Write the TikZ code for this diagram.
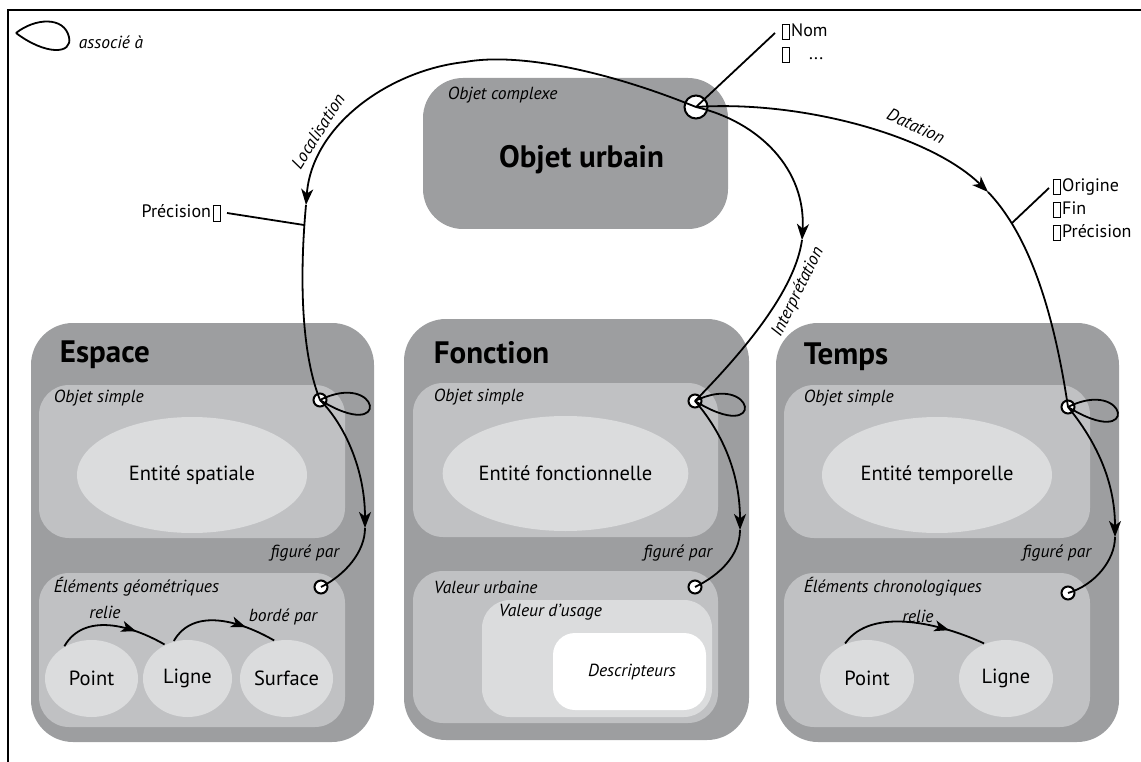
\documentclass[tikz,border=0pt]{standalone}
\usepackage{fontspec}
\setmainfont{PT Sans}
\usetikzlibrary{arrows.meta,shapes.geometric,decorations.markings,calc}
\definecolor{gOuter}{HTML}{9D9EA0}
\definecolor{gMid}{HTML}{C0C1C3}
\definecolor{gLight}{HTML}{DBDCDD}
\newcommand{\bx}{\raisebox{-0.16em}{\setlength{\fboxsep}{0pt}\setlength{\fboxrule}{0.7pt}\fbox{\rule{0pt}{0.8em}\hspace{0.36em}}}\kern0.08em}
\begin{document}
\begin{tikzpicture}[x=1pt,y=-1pt,line width=1.8pt,
  outerbox/.style={rectangle, rounded corners=42pt, fill=gOuter, draw=none, inner sep=0pt},
  innerbox/.style={rectangle, rounded corners=30pt, fill=gMid, draw=none, inner sep=0pt},
  ell/.style={ellipse, fill=gLight, draw=none, inner sep=0pt, font=\fontsize{20.5}{22}\selectfont},
  port/.style={circle, draw, fill=white, line width=2pt, minimum size=13pt, inner sep=0pt},
  lab/.style={font=\itshape\fontsize{17.5}{19}\selectfont, anchor=west, inner sep=0pt},
  plain/.style={font=\fontsize{18}{23}\selectfont, inner sep=0pt},
  ttl/.style={font=\bfseries\fontsize{31}{34}\selectfont, anchor=west, inner sep=0pt},
  tip/.style={-{Stealth[length=16pt,width=12pt,inset=4.5pt]}},
  midarrow/.style={postaction={decorate}, decoration={markings, mark=at position #1 with {\arrow{Stealth[length=15pt,width=11pt,inset=4pt]}}}},
]
\useasboundingbox (0,0) rectangle (1141,762);
% frame
\coordinate (fbl) at (8,762);
\coordinate (ftl) at (8,10);
\coordinate (ftr) at (1141,10);
\draw[line width=2.5pt] (fbl) -- (ftl) -- (ftr);

% legend
\coordinate (leg) at (16,33);
\coordinate (legr) at (69,37);
\draw (leg) .. controls (35,18) and (64,16) .. (legr) .. controls (73,55) and (45,55) .. (leg);
\node[lab] (legtxt) at (78,42) {associé à};

% top box
\node[outerbox, rounded corners=40pt, minimum width=305pt, minimum height=151pt] (ou) at (575.5,153.5) {};
\node[lab] (oclab) at (447,95) {Objet complexe};
\node[ttl, anchor=center] (outitle) at (581.5,160) {Objet urbain};

% Espace
\node[outerbox, minimum width=343pt, minimum height=419pt] (esp) at (202.5,532.5) {};
\node[ttl] (esptitle) at (59,355) {Espace};
\node[innerbox, minimum width=306pt, minimum height=153pt] (espos) at (192,461.5) {};
\node[lab] (esposlab) at (53,398) {Objet simple};
\node[ell, minimum width=230pt, minimum height=116pt] (espent) at (192,475) {Entité spatiale};
\node[lab, anchor=east] (espfig) at (340,553) {figuré par};
\node[innerbox, minimum width=306pt, minimum height=154pt] (espel) at (192,650) {};
\node[lab] (espellab) at (53,587) {Éléments géométriques};
\node[ell, minimum width=93pt, minimum height=77pt] (esppt) at (91.5,678.5) {Point};
\node[ell, minimum width=89pt, minimum height=77pt] (esplg) at (187.5,678.5) {Ligne};
\node[ell, minimum width=93pt, minimum height=77pt] (espsf) at (286.5,678.5) {Surface};
\node[lab, anchor=center] (esprel) at (105,612) {relie};
\node[lab, anchor=center] (espbor) at (283,617) {bordé par};
\node[port] (e1) at (320,400) {};
\node[port] (e2) at (321,587) {};

% Fonction
\node[outerbox, minimum width=345pt, minimum height=421pt] (fon) at (576.5,529.5) {};
\node[ttl] (fontitle) at (433,353) {Fonction};
\node[innerbox, minimum width=305pt, minimum height=154pt] (fonos) at (565.5,460) {};
\node[lab] (fonoslab) at (433,397) {Objet simple};
\node[ell, minimum width=229pt, minimum height=115pt] (fonent) at (565.5,473.5) {Entité fonctionnelle};
\node[lab, anchor=east] (fonfig) at (713,553) {figuré par};
\node[innerbox, minimum width=305pt, minimum height=152pt] (fonvu) at (565.5,647) {};
\node[lab] (fonvulab) at (433,587) {Valeur urbaine};
\node[innerbox, fill=gLight, rounded corners=28pt, minimum width=230pt, minimum height=117pt] (fonvus) at (597,658.5) {};
\node[lab] (fonvuslab) at (498,612) {Valeur d'usage};
\node[innerbox, fill=white, rounded corners=22pt, minimum width=153pt, minimum height=77pt] (fondesc) at (629.5,671.5) {};
\node[lab, anchor=center] (fondesclab) at (632,672) {Descripteurs};
\node[port] (f1) at (695,401) {};
\node[port] (f2) at (695,587) {};

% Temps
\node[outerbox, minimum width=343pt, minimum height=419pt] (tps) at (947.5,532.5) {};
\node[ttl] (tpstitle) at (803,357) {Temps};
\node[innerbox, minimum width=306pt, minimum height=153pt] (tpsos) at (937,461.5) {};
\node[lab] (tpsoslab) at (803,398) {Objet simple};
\node[ell, minimum width=230pt, minimum height=116pt] (tpsent) at (937,475) {Entité temporelle};
\node[lab, anchor=east] (tpsfig) at (1092,553) {figuré par};
\node[innerbox, minimum width=306pt, minimum height=154pt] (tpsel) at (937,650) {};
\node[lab] (tpsellab) at (803,587) {Éléments chronologiques};
\node[ell, minimum width=94pt, minimum height=77pt] (tpspt) at (867,678.5) {Point};
\node[ell, minimum width=94pt, minimum height=77pt] (tpslg) at (1006,678.5) {Ligne};
\node[lab, anchor=center] (tpsrel) at (918,616) {relie};
\node[port] (t1) at (1068,407) {};
\node[port] (t2) at (1068,593) {};

% top port
\node[port, minimum size=23pt] (cx) at (696,107) {};

% attribute texts
\node[plain, anchor=west, align=left] (nom) at (781,43) {\bx Nom\\\bx\quad ...};
\coordinate (nomend) at (775,33);
\node[plain, anchor=east] (prec) at (223,213) {Précision\kern0.1em\bx};
\coordinate (lp) at (304,225);
\node[plain, anchor=west, align=left] (dlist) at (1052,210) {\bx Origine\\\bx Fin\\\bx Précision};
\coordinate (dt) at (1012,223);
\coordinate (dtend) at (1049,188);

% connector labels
\node[lab, anchor=center, rotate=58] (loclab) at (318,131) {Localisation};
\node[lab, anchor=center, rotate=-25] (datlab) at (916,126) {Datation};
\node[lab, anchor=center, rotate=64] (intlab) at (798,292) {Interprétation};

% Localisation
\coordinate (la) at (306,205);
\coordinate (ltop) at (465,62);
\draw[tip] (cx.center) .. controls (610,72) and (520,52) .. (ltop) .. controls (390,70) and (312,125) .. (la);
\draw (la) .. controls (300,270) and (300,350) .. (e1.center);
\draw ([xshift=4pt]prec.east) -- (lp);

% Datation
\coordinate (da) at (988,192);
\draw[tip] (cx.center) .. controls (800,100) and (930,135) .. (da);
\draw (da) .. controls (1032,238) and (1055,320) .. (t1.center);
\draw (dt) -- (dtend);

% Interpretation
\coordinate (ia) at (802,240);
\draw[tip] (cx.center) .. controls (760,122) and (806,170) .. (ia);
\draw (ia) .. controls (795,290) and (745,350) .. (f1.center);

% Nom
\draw (cx.center) -- (nomend);

% loops
\draw (e1.center) .. controls ($(e1)+(60,-30)$) and ($(e1)+(73,45)$) .. (e1.center);
\draw (f1.center) .. controls ($(f1)+(60,-30)$) and ($(f1)+(73,45)$) .. (f1.center);
\draw (t1.center) .. controls ($(t1)+(60,-30)$) and ($(t1)+(73,45)$) .. (t1.center);

% figure par
\coordinate (ea) at (365,528);
\draw[tip] (e1.center) .. controls (345,425) and (365,470) .. (ea);
\draw (ea) .. controls (365,552) and (345,575) .. (e2.center);
\coordinate (fa) at (740,530);
\draw[tip] (f1.center) .. controls (720,430) and (740,470) .. (fa);
\draw (fa) .. controls (740,555) and (720,575) .. (f2.center);
\coordinate (ta) at (1115,537);
\draw[tip] (t1.center) .. controls (1095,440) and (1115,480) .. (ta);
\draw (ta) .. controls (1115,560) and (1095,585) .. (t2.center);

% relie / borde par
\draw[midarrow=0.72] (esppt.130) to[out=60,in=150] (esplg.124);
\draw[midarrow=0.72] (esplg.110) to[out=60,in=150] (espsf.108);
\draw[midarrow=0.75] (tpspt.122) to[out=55,in=155,looseness=0.85] (tpslg.122);
\end{tikzpicture}
\end{document}
